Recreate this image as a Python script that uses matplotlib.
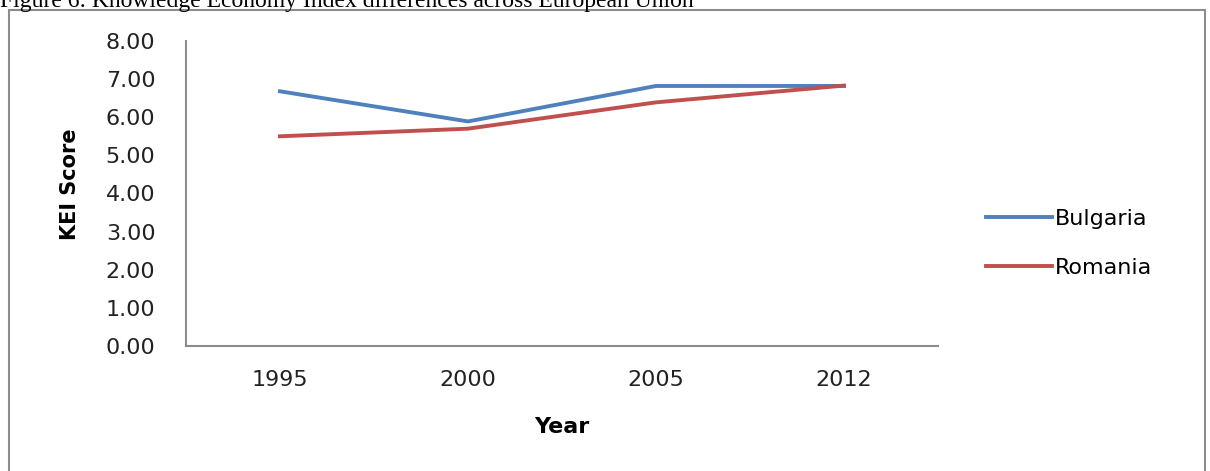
import matplotlib.pyplot as plt
from matplotlib.patches import Rectangle

# Chart data
years = ['1995', '2000', '2005', '2012']
bulgaria = [6.68, 5.89, 6.82, 6.82]
romania = [5.50, 5.70, 6.39, 6.83]

fig = plt.figure(figsize=(12.1, 4.71), dpi=100)
ax = fig.add_axes([0.1537, 0.2654, 0.6215, 0.6476])

x = range(len(years))
ax.plot(x, bulgaria, color='#4F81BD', lw=2.8, label='Bulgaria')
ax.plot(x, romania, color='#C0504D', lw=2.8, label='Romania')

ax.set_xlim(-0.5, len(years) - 0.5)
ax.set_ylim(0, 8)
ax.set_xticks(list(x))
ax.set_xticklabels(years)
ax.set_yticks(range(0, 9))
ax.set_yticklabels([f'{v:.2f}' for v in range(0, 9)])
ax.tick_params(length=0, labelsize=16, colors='#222222')
ax.tick_params(axis='x', pad=17)
ax.tick_params(axis='y', pad=22)
for s in ['top', 'right']:
    ax.spines[s].set_visible(False)
for s in ['left', 'bottom']:
    ax.spines[s].set_color('#8c8c8c')
    ax.spines[s].set_linewidth(1.5)

ax.set_xlabel('Year', fontsize=16, fontweight='bold', labelpad=20)
ax.set_ylabel('KEI Score', fontsize=15, fontweight='bold')
ax.yaxis.set_label_coords(-0.141, 0.53)

ax.legend(loc='center left', bbox_to_anchor=(0.798, 0.483), bbox_transform=fig.transFigure,
          frameon=False, fontsize=16, handlelength=3.0, handletextpad=0.1,
          labelspacing=1.3)

# outer chart frame
fig.patches.append(Rectangle((9 / 1210, -0.02), 1196 / 1210, 1.02 - 10 / 471,
                             transform=fig.transFigure, fill=False,
                             edgecolor='#8c8c8c', lw=1.5))

fig.text(0.0, 0.985, 'Figure 6: Knowledge Economy Index differences across European Union',
         family='Liberation Serif', fontsize=17, va='baseline', ha='left')

fig.savefig('out.png', dpi=100)
